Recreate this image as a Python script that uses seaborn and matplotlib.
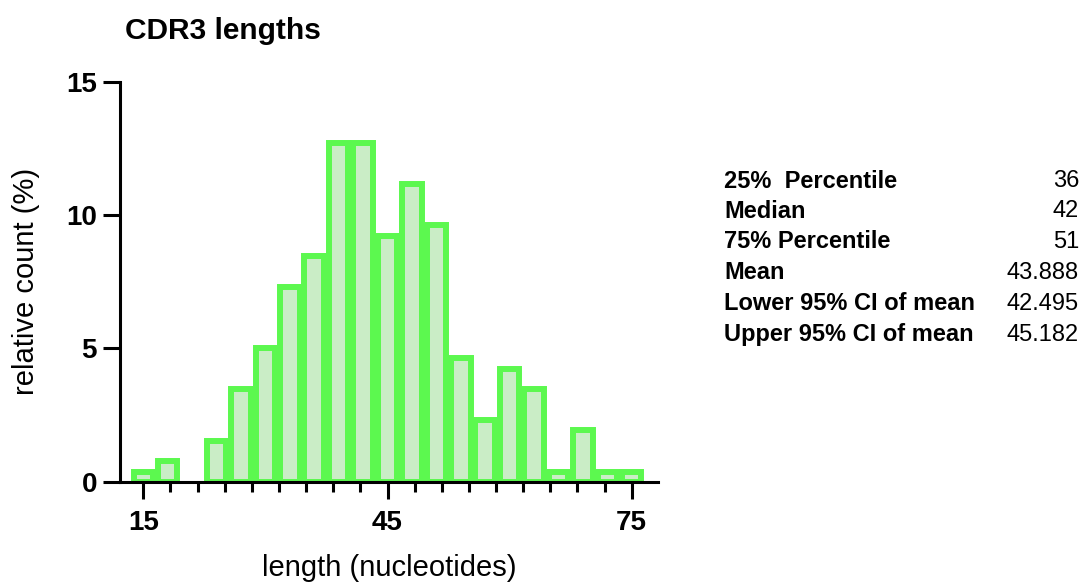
import numpy as np
import pandas as pd
import matplotlib
matplotlib.use("Agg")
import matplotlib.pyplot as plt
from matplotlib.ticker import FixedLocator
import seaborn as sns

# CDR3 length distribution (bin centres in nucleotides, relative count in %)
lengths = [15, 18, 21, 24, 27, 30, 33, 36, 39, 42, 45, 48, 51, 54, 57, 60, 63, 66, 69, 72, 75]
rel_count = [0.38, 0.77, 0.00, 1.54, 3.46, 5.00, 7.31, 8.46, 12.69, 12.69, 9.23,
             11.15, 9.62, 4.62, 2.31, 4.23, 3.46, 0.38, 1.92, 0.38, 0.38]

stat_names = ["25%  Percentile", "Median", "75% Percentile", "Mean",
              "Lower 95% CI of mean", "Upper 95% CI of mean"]
stat_values = ["36", "42", "51", "43.888", "42.495", "45.182"]

x_major = [15, 45, 75]
y_major = [0, 5, 10, 15]

sns.set_theme(style="white")
plt.rcParams["font.family"] = ["Liberation Sans", "DejaVu Sans"]
plt.rcParams["text.color"] = "black"
plt.rcParams["axes.labelcolor"] = "black"

df = pd.DataFrame({"length": lengths, "pct": rel_count})

fig = plt.figure(figsize=(10.91, 5.86), dpi=100)
ax = fig.add_axes([0.110, 0.178, 0.4929, 0.6826])

sns.histplot(data=df, x="length", weights="pct", binwidth=3, binrange=(13.5, 76.5),
             shrink=0.8, color="#caedc6", edgecolor="#5cf84f", linewidth=4.3,
             alpha=1.0, ax=ax)

# empty bins get no outline
for patch in ax.patches:
    if patch.get_height() <= 0:
        patch.set_linewidth(0)

ax.set_xlim(12.14, 78.2)
ax.set_ylim(0, 15)
ax.set_xticks(x_major)
ax.xaxis.set_minor_locator(FixedLocator(np.linspace(15, 75, 19)))
ax.set_yticks(y_major)

for side in ["top", "right"]:
    ax.spines[side].set_visible(False)
for side in ["left", "bottom"]:
    ax.spines[side].set_linewidth(2.2)
    ax.spines[side].set_color("black")

ax.tick_params(axis="y", which="major", direction="out", length=12.5, width=2.2,
               labelsize=20, pad=4, left=True, colors="black")
ax.tick_params(axis="x", which="major", direction="out", length=12.5, width=2.2,
               labelsize=20, pad=8, bottom=True, colors="black")
ax.tick_params(axis="x", which="minor", direction="out", length=7, width=2.2,
               bottom=True, colors="black")
for lbl in ax.get_xticklabels() + ax.get_yticklabels():
    lbl.set_fontweight("bold")

ax.set_xlabel("length (nucleotides)", fontsize=21, labelpad=13)
ax.set_ylabel("relative count (%)", fontsize=21, labelpad=19)

fig.text(125 / 1091, 1 - 31 / 586, "CDR3 lengths", fontsize=21.5, fontweight="bold",
         ha="left", va="center")

row_y = [181, 211, 242, 273, 304, 335]
for name, val, yy in zip(stat_names, stat_values, row_y):
    fig.text(724 / 1091, 1 - yy / 586, name, fontsize=17, fontweight="bold",
             ha="left", va="center")
    fig.text(1079 / 1091, 1 - yy / 586, val, fontsize=17,
             ha="right", va="center")

fig.savefig("out.png", dpi=100)
